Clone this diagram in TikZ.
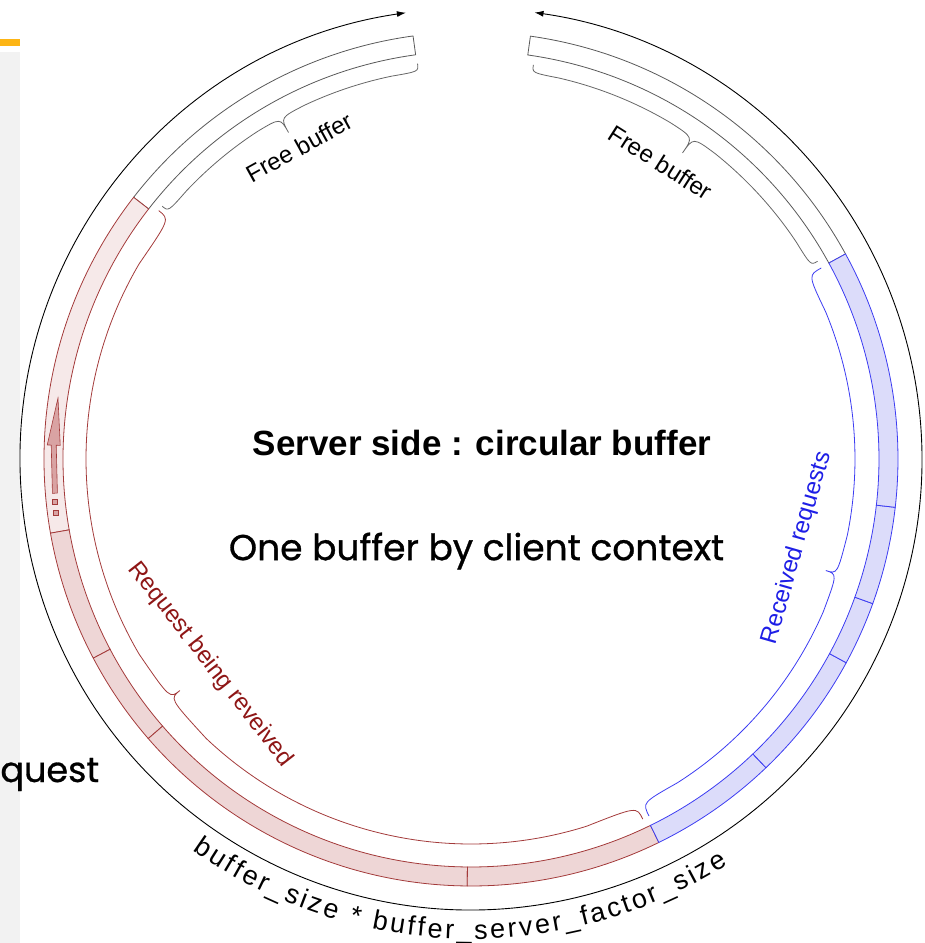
\documentclass[tikz,border=0pt]{standalone}
\usepackage{fontspec}
\setmainfont{Liberation Sans}
\newfontfamily\handfont{Poppins}[FakeBold=0.8]
\usetikzlibrary{arrows.meta,decorations.text}
\definecolor{ringred}{HTML}{A33A3A}
\definecolor{txtred}{HTML}{8E1616}
\definecolor{ringblue}{HTML}{3C3CF2}
\definecolor{txtblue}{HTML}{1E1EE6}
\definecolor{pinkfill}{HTML}{F6E9E9}
\definecolor{dotred}{HTML}{EED6D6}
\definecolor{dotblue}{HTML}{DCDCFA}
\definecolor{arrowfill}{HTML}{D9A3A3}
\definecolor{slidegrey}{HTML}{F2F2F2}
\definecolor{slideorange}{HTML}{FDB515}
% ring sector: from angle, to angle, style
\newcommand{\ringseg}[3]{\filldraw[#3] (#1:408pt) arc[start angle=#1,end angle=#2,radius=408pt] -- (#2:427pt) arc[start angle=#2,end angle=#1,radius=427pt] -- cycle;}
% curly brace along the circle: from, to, body radius, tip radius, curl angle, style
\newcommand{\arcbrace}[6]{%
\pgfmathsetmacro{\bm}{(#1+#2)/2}\pgfmathsetmacro{\ba}{#1+#5}\pgfmathsetmacro{\bb}{#2-#5}%
\pgfmathsetmacro{\bl}{\bm-#5}\pgfmathsetmacro{\br}{\bm+#5}%
\draw[#6] (#1:399pt) .. controls (#1:#3pt) .. (\ba:#3pt) arc[start angle=\ba,end angle=\bl,radius=#3pt] .. controls (\bm:#3pt) .. (\bm:#4pt) .. controls (\bm:#3pt) .. (\br:#3pt) arc[start angle=\br,end angle=\bb,radius=#3pt] .. controls (#2:#3pt) .. (#2:399pt);}

\begin{document}
\begin{tikzpicture}[x=1pt,y=1pt,line width=0.8pt,>={Latex[length=9pt,width=6pt]},
  freeseg/.style={draw=black!65,fill=white},
  redseg/.style={draw=ringred,fill=dotred},
  blueseg/.style={draw=ringblue,fill=dotblue},
  lbl/.style={font=\fontsize{24}{28}\selectfont,inner sep=0pt},
  sq/.style={draw=ringred,fill=arrowfill,minimum size=5pt,inner sep=0pt,line width=0.6pt}]
\useasboundingbox (-471,-484) rectangle (454,459);
% slide leftovers
\fill[slidegrey] (-471,-484) rectangle (-451,407);
\fill[slideorange] (-471,413) rectangle (-451,420);
\node[font=\handfont\fontsize{35}{40}\selectfont,anchor=base west,inner sep=0pt] (quest) at (-471,-323) {quest};

% outer size arc
\draw[<->,line width=0.9pt] (98.3:451pt) arc[start angle=98.3,end angle=441.9,radius=451pt];
\path[decorate,decoration={text along path,text align={fit to path},
  text={|\fontsize{27}{32}\selectfont|buffer{\_}size * buffer{\_}server{\_}factor{\_}size}}]
  (234.6:480pt) arc[start angle=234.6,end angle=302.3,radius=480pt];

% the ring
\ringseg{97.8}{142.2}{freeseg}
\ringseg{28.7}{82}{freeseg}
\ringseg{142.2}{190}{redseg,fill=pinkfill}
\ringseg{190}{207.8}{redseg}
\ringseg{207.8}{220.9}{redseg}
\ringseg{220.9}{269.5}{redseg}
\ringseg{269.5}{296.1}{redseg}
\ringseg{296.1}{313.7}{blueseg}
\ringseg{313.7}{331.5}{blueseg}
\ringseg{331.5}{340.2}{blueseg}
\ringseg{340.2}{353.5}{blueseg}
\ringseg{353.5}{388.7}{blueseg}

% write pointer
\filldraw[draw=ringred,fill=arrowfill,line width=0.6pt] (171.6:417.5pt) -- (178.1:424pt) -- (178.1:420pt) -- (184.7:420pt) -- (184.7:415pt) -- (178.1:415pt) -- (178.1:411pt) -- cycle;
\node[sq] (sqa) at (185.9:418pt) {};
\node[sq] (sqb) at (187.4:418.5pt) {};

% braces
\arcbrace{97.7}{140.7}{391}{374}{4}{black!60}
\arcbrace{29.7}{81}{391}{372}{4}{black!60}
\arcbrace{141.5}{295.5}{385}{372}{8}{ringred}
\arcbrace{-63.5}{28.6}{384}{372}{6}{ringblue}

% labels
\node[lbl,rotate=28.8] (freeleft) at (118.9:356pt) {Free buffer};
\node[lbl,rotate=-32.5] (freeright) at (57.4:352pt) {Free buffer};
\node[lbl,txtblue,rotate=74] (received) at (-15.3:338pt) {Received requests};
\node[lbl,txtred,rotate=-52] (being) at (218.3:332pt) {Request being reveived};
\node[font=\bfseries\fontsize{35}{40}\selectfont] (title) at (11,16) {Server side : circular buffer};
\node[font=\handfont\fontsize{36}{40}\selectfont] (context) at (5.5,-92) {One buffer by client context};
\end{tikzpicture}
\end{document}
